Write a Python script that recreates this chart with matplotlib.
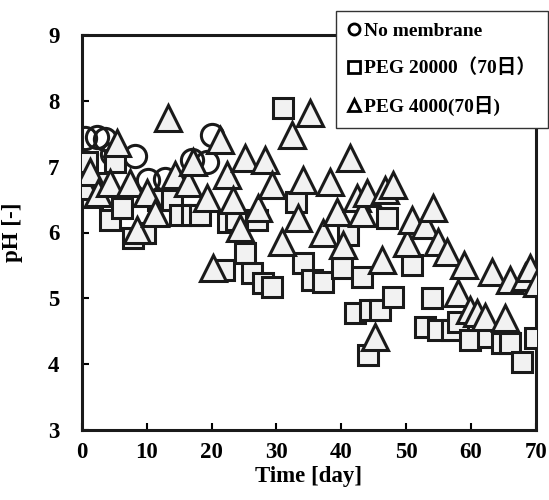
import matplotlib
matplotlib.use("Agg")
import matplotlib.pyplot as plt
from matplotlib.lines import Line2D

plt.rcParams['font.family'] = ['Liberation Serif', 'Noto Sans CJK JP']
plt.rcParams['font.weight'] = 'bold'

# No membrane
circ_day = [0.5, 2.3, 3.5, 4.6, 8.2, 10.2, 12.8, 17.0, 19.3, 20.0]
circ_ph = [7.43, 7.45, 7.42, 7.2, 7.16, 6.8, 6.82, 7.1, 7.07, 7.48]

# PEG 20000 (70 days)
sq_day = [0.8, 0.5, 1.5, 2.5, 4.3, 5.1, 6.2, 7.9, 9.7, 11.7, 13.9, 15.1, 17.0,
          18.2, 22.0, 22.5, 23.8, 25.1, 26.2, 27.0, 27.9, 29.4, 31.0, 33.1,
          34.1, 35.5, 37.2, 40.1, 41.0, 43.2, 42.1, 44.4, 44.1, 46.0, 47.0,
          48.0, 50.9, 52.9, 54.0, 54.9, 57.0, 58.0, 59.8, 62.6, 64.8, 66.0,
          67.8, 69.8]
sq_ph = [7.07, 6.7, 6.54, 6.75, 6.19, 7.07, 6.37, 5.92, 5.99, 6.5, 6.5, 6.27,
         6.27, 6.27, 5.43, 6.16, 6.19, 5.69, 5.38, 6.19, 5.23, 5.17, 7.89, 6.46,
         5.54, 5.28, 5.25, 5.46, 5.96, 5.33, 4.78, 4.82, 4.14, 4.82, 6.22,
         5.02, 5.5, 4.56, 5.0, 4.52, 4.52, 4.64, 4.37, 4.41, 4.32, 4.32,
         4.03, 4.40]

# PEG 4000 (70 days)
tri_day = [0.5, 1.2, 2.5, 4.3, 5.4, 7.4, 8.5, 10.0, 11.3, 13.3, 14.3, 16.3,
           17.1, 19.3, 20.2, 21.3, 22.4, 23.3, 24.4, 25.1, 27.1, 28.2, 29.3,
           30.8, 32.4, 33.3, 34.1, 35.2, 37.2, 38.2, 39.3, 40.2, 41.3, 42.4,
           43.2, 44.0, 45.2, 46.3, 46.7, 48.0, 50.1, 50.9, 52.9, 54.1, 54.9,
           56.3, 58.0, 59.0, 59.8, 60.9, 62.1, 63.2, 65.2, 66.0, 68.3, 69.1,
           70.2]
tri_ph = [6.7, 6.92, 6.6, 6.75, 7.36, 6.75, 6.04, 6.6, 6.3, 7.74, 6.87, 6.75,
          7.07, 6.52, 5.46, 7.4, 6.87, 6.5, 6.07, 7.13, 6.37, 7.1, 6.72,
          5.86, 7.48, 6.22, 6.8, 7.82, 6.0, 6.77, 6.31, 5.81, 7.13, 6.52,
          6.3, 6.6, 4.41, 5.58, 6.65, 6.72, 5.84, 6.19, 6.11, 6.37, 5.86,
          5.7, 5.08, 5.5, 4.82, 4.78, 4.72, 5.4, 4.7, 5.28, 5.33, 5.46,
          5.23]

labels = ['No membrane', 'PEG 20000（70日）', 'PEG 4000(70日)']

fig = plt.figure(figsize=(5.49, 5.0), dpi=100)
ax = fig.add_axes([0.149, 0.14, 0.827, 0.79])

fill = '#f2f2f2'
ax.plot(circ_day, circ_ph, 'o', ms=16, mfc='none', mec='#1a1a1a', mew=2.2, zorder=3)
ax.plot(sq_day, sq_ph, 's', ms=14, mfc=fill, mec='#1a1a1a', mew=2.2, zorder=4)
ax.plot(tri_day, tri_ph, '^', ms=19, mfc=fill, mec='#1a1a1a', mew=2.2, zorder=5)

ax.set_xlim(0, 70)
ax.set_ylim(3, 9)
ax.set_xticks(range(0, 71, 10))
ax.set_yticks(range(3, 10))
ax.tick_params(direction='in', length=5, width=1.5, labelsize=16.5)
ax.tick_params(axis='x', pad=9)
ax.tick_params(axis='y', pad=16)
for s in ax.spines.values():
    s.set_linewidth(2.2)
    s.set_color('#1a1a1a')
for t in ax.get_xticklabels() + ax.get_yticklabels():
    t.set_fontweight('bold')

ax.set_xlabel('Time [day]', fontsize=16.5, fontweight='bold', labelpad=2)
ax.set_ylabel('pH [-]', fontsize=16.5, fontweight='bold', labelpad=18)

handles = [
    Line2D([], [], ls='none', marker='o', ms=8, mfc='white', mec='black', mew=2),
    Line2D([], [], ls='none', marker='s', ms=8, mfc='white', mec='black', mew=2),
    Line2D([], [], ls='none', marker='^', ms=8, mfc='white', mec='black', mew=2),
]
leg = fig.legend(handles, labels, loc='upper right', bbox_to_anchor=(0.998, 0.978),
                 fontsize=14, frameon=True, fancybox=False, framealpha=1,
                 edgecolor='#333333', handlelength=0.6, handletextpad=0.25,
                 labelspacing=0.95, borderpad=0.6, borderaxespad=0)
leg.get_frame().set_linewidth(1.0)
for t in leg.get_texts():
    t.set_fontweight('bold')
leg.set_zorder(10)

fig.savefig('out.png', dpi=100)
